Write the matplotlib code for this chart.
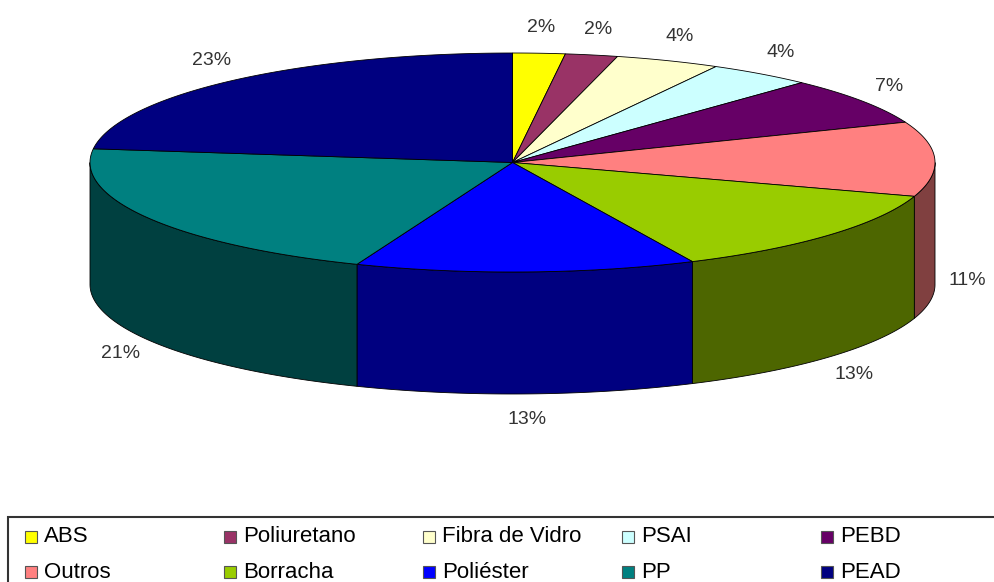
import matplotlib.pyplot as plt
import numpy as np
from matplotlib.patches import Polygon, Rectangle

# dados do gráfico
materiais = ['ABS', 'Poliuretano', 'Fibra de Vidro', 'PSAI', 'PEBD',
             'Outros', 'Borracha', 'Poliéster', 'PP', 'PEAD']
percentuais = [2, 2, 4, 4, 7, 11, 13, 13, 21, 23]
cores = ['#FFFF00', '#993366', '#FFFFCC', '#CCFFFF', '#660066',
         '#FF8080', '#99CC00', '#0000FF', '#008080', '#000080']

plt.rcParams['font.family'] = ['Liberation Sans', 'DejaVu Sans']

fig = plt.figure(figsize=(9.94, 5.82), dpi=100)
ax = fig.add_axes([0, 0, 1, 1])
ax.set_xlim(0, 994)
ax.set_ylim(582, 0)
ax.axis('off')

# geometria da pizza 3D (elipse em pixels)
cx, cy = 512.5, 162.5
a, b = 422.5, 109.5
altura = 122


def ponto(theta, dy=0.0):
    # ângulo medido a partir do topo, no sentido horário
    return cx + a * np.sin(theta), cy - b * np.cos(theta) + dy


valores = np.array(percentuais, dtype=float)
limites = np.concatenate([[0], np.cumsum(valores)]) / valores.sum() * 2 * np.pi


def escurecer(cor, f=0.5):
    r, g, bb = [int(cor[i:i + 2], 16) / 255 for i in (1, 3, 5)]
    return (r * f, g * f, bb * f)


# laterais (somente a parte da frente)
for i, cor in enumerate(cores):
    t1, t2 = limites[i], limites[i + 1]
    lo, hi = max(t1, np.pi / 2), min(t2, 3 * np.pi / 2)
    if lo >= hi:
        continue
    t = np.linspace(lo, hi, 80)
    xs, ys = ponto(t)
    pts = np.column_stack([np.concatenate([xs, xs[::-1]]),
                           np.concatenate([ys, ys[::-1] + altura])])
    ax.add_patch(Polygon(pts, closed=True, facecolor=escurecer(cor),
                         edgecolor='black', linewidth=0.6))

# tampo
for i, cor in enumerate(cores):
    t = np.linspace(limites[i], limites[i + 1], 120)
    xs, ys = ponto(t)
    pts = np.column_stack([np.concatenate([[cx], xs]),
                           np.concatenate([[cy], ys])])
    ax.add_patch(Polygon(pts, closed=True, facecolor=cor,
                         edgecolor='black', linewidth=0.6))

# rótulos de porcentagem
for i, p in enumerate(percentuais):
    tm = (limites[i] + limites[i + 1]) / 2
    lx = cx + (a + 33) * np.sin(tm)
    ly = cy - (b + 26) * np.cos(tm)
    if np.cos(tm) < 0.1:
        ly += altura
    ax.text(lx, ly, f'{p}%', ha='center', va='center', fontsize=14,
            color='#333333')

# legenda
ax.add_patch(Rectangle((8, 517), 1000, 100, facecolor='white',
                       edgecolor='#333333', linewidth=1.5, clip_on=True))
for i, (nome, cor) in enumerate(zip(materiais, cores)):
    lin, col = divmod(i, 5)
    x0 = 25 + col * 199
    y0 = 537 + lin * 35
    ax.add_patch(Rectangle((x0, y0 - 6), 12, 12, facecolor=cor,
                           edgecolor='#555555', linewidth=0.8))
    ax.text(x0 + 19, y0, nome, ha='left', va='center', fontsize=16,
            color='black')

fig.savefig('out.png', dpi=100)
